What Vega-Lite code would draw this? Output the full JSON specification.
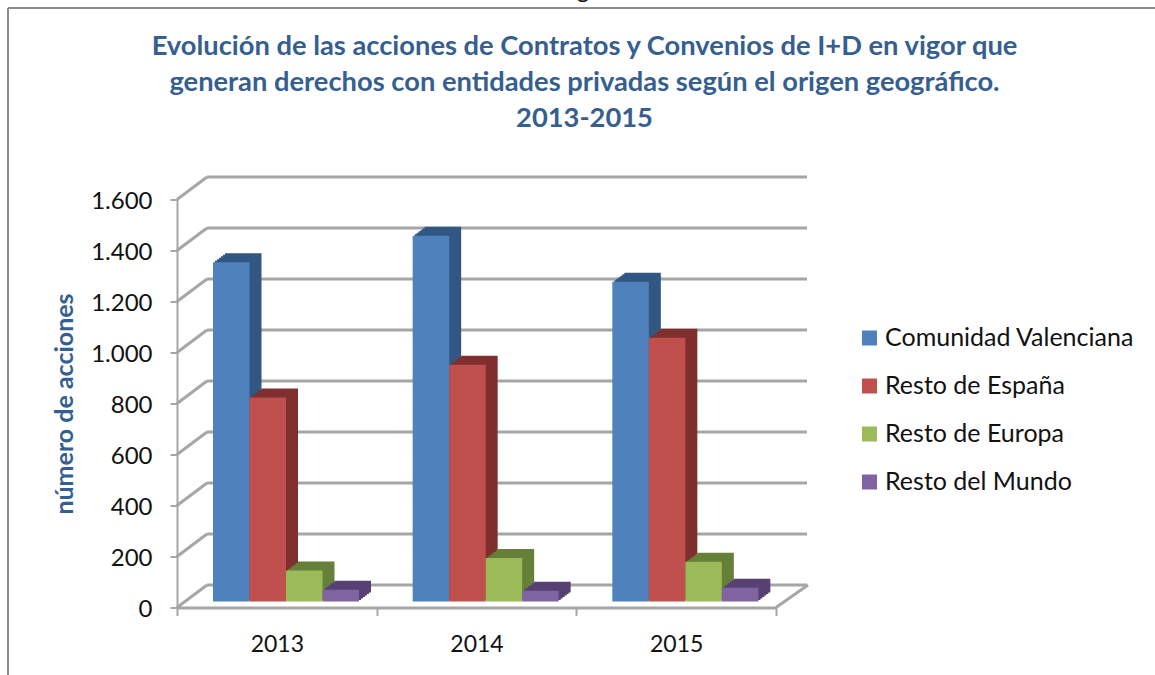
{
"$schema":"https://vega.github.io/schema/vega-lite/v6.json",
"width":599,"height":408,
"autosize":"none",
"padding":{"left":177,"top":199.5,"right":379,"bottom":67.5},
"background":"white",
"view":{"stroke":null},
"config":{"view":{"stroke":null},"font":"Lato"},
"title":{"text":["Evolución de las acciones de Contratos y Convenios de I+D en vigor que","generan derechos con entidades privadas según el origen geográfico.","2013-2015"],"anchor":"middle","frame":"group","dx":108,"dy":153.5,"offset":0,"font":"Lato","fontSize":27.3,"fontWeight":"bold","color":"#365F91","lineHeight":36},
"data":{"values":[
{"anio":"2013","serie":"Comunidad Valenciana","acciones":1330},
{"anio":"2013","serie":"Resto de España","acciones":800},
{"anio":"2013","serie":"Resto de Europa","acciones":122},
{"anio":"2013","serie":"Resto del Mundo","acciones":46},
{"anio":"2014","serie":"Comunidad Valenciana","acciones":1434},
{"anio":"2014","serie":"Resto de España","acciones":928},
{"anio":"2014","serie":"Resto de Europa","acciones":171},
{"anio":"2014","serie":"Resto del Mundo","acciones":42},
{"anio":"2015","serie":"Comunidad Valenciana","acciones":1254},
{"anio":"2015","serie":"Resto de España","acciones":1034},
{"anio":"2015","serie":"Resto de Europa","acciones":156},
{"anio":"2015","serie":"Resto del Mundo","acciones":54}
]},
"layer":[
{"data":{"values":[{"v":0},{"v":200},{"v":400},{"v":600},{"v":800},{"v":1000},{"v":1200},{"v":1400},{"v":1600}]},
 "mark":{"type":"rule","color":"#A6A6A6","strokeWidth":3,"xOffset":30,"x2Offset":31,"yOffset":-22.5,"y2Offset":-22.5},
 "encoding":{"x":{"datum":0,"type":"quantitative","scale":{"domain":[0,1]},"axis":null},"x2":{"datum":1},
  "y":{"field":"v","type":"quantitative","scale":{"domain":[0,1600],"nice":false},
   "axis":{"title":"número de acciones","titleFont":"Lato","titleFontSize":25,"titleFontWeight":"bold","titleColor":"#365F91","titleX":-100,"titleY":204,"titleAnchor":"middle","values":[0,200,400,600,800,1000,1200,1400,1600],"labelExpr":"replace(format(datum.value,','),',','.')","labelFont":"Lato","labelFontSize":24,"labelColor":"#111111","labelPadding":18,"labelOffset":1.5,"tickColor":"#A6A6A6","tickWidth":2,"tickSize":7,"domainColor":"#A6A6A6","domainWidth":2,"grid":false}},
  "y2":{"field":"v"}}},
{"data":{"values":[{"v":0},{"v":200},{"v":400},{"v":600},{"v":800},{"v":1000},{"v":1200},{"v":1400},{"v":1600}]},
 "mark":{"type":"rule","color":"#A6A6A6","strokeWidth":3,"x2Offset":30,"y2Offset":-22.5},
 "encoding":{"x":{"datum":0,"type":"quantitative","scale":{"domain":[0,1]},"axis":null},"x2":{"datum":0},
  "y":{"field":"v","type":"quantitative"},"y2":{"field":"v"}}},
{"data":{"values":[{"v":0}]},
 "mark":{"type":"rule","color":"#A6A6A6","strokeWidth":3,"x2Offset":32,"y2Offset":-22.5},
 "encoding":{"x":{"datum":1,"type":"quantitative","scale":{"domain":[0,1]},"axis":null},"x2":{"datum":1},
  "y":{"field":"v","type":"quantitative"},"y2":{"field":"v"}}},
{"data":{"values":[{"t":"g"}]},
 "mark":{"type":"text","text":"g","font":"Lato","fontSize":24,"color":"#111111","dx":406,"dy":-202,"baseline":"alphabetic"},
 "encoding":{"x":{"datum":0,"type":"quantitative","scale":{"domain":[0,1]},"axis":null},"y":{"datum":1600,"type":"quantitative"}}},
{"data":{"values":[{"v":1600}]},
 "mark":{"type":"rule","color":"#8C8C8C","strokeWidth":2,"xOffset":-169,"x2Offset":379,"yOffset":-191.5,"y2Offset":-191.5},
 "encoding":{"x":{"datum":0,"type":"quantitative","scale":{"domain":[0,1]},"axis":null},"x2":{"datum":1},"y":{"field":"v","type":"quantitative"},"y2":{"field":"v"}}},
{"data":{"values":[{"v":1600,"w":0}]},
 "mark":{"type":"rule","color":"#8C8C8C","strokeWidth":2,"xOffset":-169,"x2Offset":-169,"yOffset":-191.5,"y2Offset":68},
 "encoding":{"x":{"datum":0,"type":"quantitative","scale":{"domain":[0,1]},"axis":null},"x2":{"datum":0},"y":{"field":"v","type":"quantitative"},"y2":{"field":"w"}}},
{"encoding":{
  "x":{"field":"anio","type":"nominal","title":null,"scale":{"paddingInner":0,"paddingOuter":0},
   "axis":{"labelAngle":0,"labelFont":"Lato","labelFontSize":23,"labelColor":"#111111","labelPadding":18,"tickBand":"extent","tickColor":"#A6A6A6","tickWidth":2,"tickSize":8,"domainColor":"#A6A6A6","domainWidth":3,"grid":false}},
  "y":{"field":"acciones","type":"quantitative","stack":null},
  "y2":{"datum":0}
 },
 "layer":[
  {"mark":{"type":"bar","yOffset":-15,"y2Offset":-15},"encoding":{"xOffset":{"field":"serie","type":"nominal","sort":["Comunidad Valenciana","Resto de España","Resto de Europa","Resto del Mundo"],"scale":{"paddingInner":0,"paddingOuter":0,"range":[48,194]}},"fill":{"field":"serie","type":"nominal","legend":null,"scale":{"domain":["Resto del Mundo","Resto de Europa","Resto de España","Comunidad Valenciana"],"range":["#574173","#66803A","#7F2F2D","#315782"]}}}},
  {"mark":{"type":"bar","yOffset":-13.5,"y2Offset":-13.5},"encoding":{"xOffset":{"field":"serie","type":"nominal","sort":["Comunidad Valenciana","Resto de España","Resto de Europa","Resto del Mundo"],"scale":{"paddingInner":0,"paddingOuter":0,"range":[46,192]}},"fill":{"field":"serie","type":"nominal","legend":null}}},
  {"mark":{"type":"bar","yOffset":-12,"y2Offset":-12},"encoding":{"xOffset":{"field":"serie","type":"nominal","sort":["Comunidad Valenciana","Resto de España","Resto de Europa","Resto del Mundo"],"scale":{"paddingInner":0,"paddingOuter":0,"range":[44,190]}},"fill":{"field":"serie","type":"nominal","legend":null}}},
  {"mark":{"type":"bar","yOffset":-10.5,"y2Offset":-10.5},"encoding":{"xOffset":{"field":"serie","type":"nominal","sort":["Comunidad Valenciana","Resto de España","Resto de Europa","Resto del Mundo"],"scale":{"paddingInner":0,"paddingOuter":0,"range":[42,188]}},"fill":{"field":"serie","type":"nominal","legend":null}}},
  {"mark":{"type":"bar","yOffset":-9,"y2Offset":-9},"encoding":{"xOffset":{"field":"serie","type":"nominal","sort":["Comunidad Valenciana","Resto de España","Resto de Europa","Resto del Mundo"],"scale":{"paddingInner":0,"paddingOuter":0,"range":[40,186]}},"fill":{"field":"serie","type":"nominal","legend":null}}},
  {"mark":{"type":"bar","yOffset":-7.5,"y2Offset":-7.5},"encoding":{"xOffset":{"field":"serie","type":"nominal","sort":["Comunidad Valenciana","Resto de España","Resto de Europa","Resto del Mundo"],"scale":{"paddingInner":0,"paddingOuter":0,"range":[38,184]}},"fill":{"field":"serie","type":"nominal","legend":null}}},
  {"mark":{"type":"bar","yOffset":-6,"y2Offset":-6},"encoding":{"xOffset":{"field":"serie","type":"nominal","sort":["Comunidad Valenciana","Resto de España","Resto de Europa","Resto del Mundo"],"scale":{"paddingInner":0,"paddingOuter":0,"range":[36,182]}},"color":{"field":"serie","type":"nominal","scale":{"domain":["Comunidad Valenciana","Resto de España","Resto de Europa","Resto del Mundo"],"range":["#4F81BD","#C0504D","#9BBB59","#8064A2"]},
   "legend":{"title":null,"orient":"none","legendX":680,"legendY":126,"symbolType":"square","symbolSize":225,"symbolStrokeWidth":0,"labelFont":"Lato","labelFontSize":25,"labelColor":"#111111","rowPadding":22,"labelOffset":3,"labelLimit":300}}}}
 ],
 "resolve":{"scale":{"xOffset":"independent"}}
}
],
"resolve":{"scale":{"x":"independent"}}
}
